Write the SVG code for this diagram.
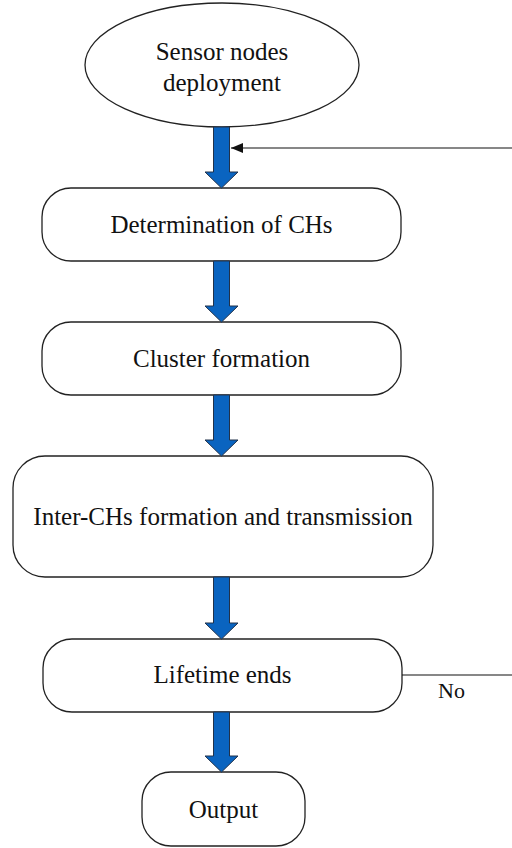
<svg xmlns="http://www.w3.org/2000/svg" width="512" height="848" viewBox="0 0 512 848">
<style>
.box{fill:#fff;stroke:#222;stroke-width:1.3}
.arr{fill:#0A64C0;stroke:#22324A;stroke-width:1}
.ln{stroke:#111;stroke-width:1.2;fill:none}
</style>
<defs>
<marker id="ah" markerWidth="12" markerHeight="10" refX="12" refY="5" orient="auto" markerUnits="userSpaceOnUse">
<path d="M0,0 L12,5 L0,10 z" fill="#111"/>
</marker>
</defs>
<g font-family="Liberation Serif, Times New Roman, serif" font-size="25" fill="#111" text-anchor="middle">
<g id="n1">
<ellipse class="box" cx="222" cy="65" rx="137" ry="62"/>
<text x="222" y="60">Sensor nodes</text>
<text x="222" y="91">deployment</text>
</g>
<g id="n2">
<rect class="box" x="42" y="188" width="359" height="73" rx="29"/>
<text x="221.5" y="233">Determination of CHs</text>
</g>
<g id="n3">
<rect class="box" x="42" y="322" width="359" height="73" rx="29"/>
<text x="221.5" y="367">Cluster formation</text>
</g>
<g id="n4">
<rect class="box" x="13" y="456" width="420" height="121" rx="32"/>
<text x="223" y="525">Inter-CHs formation and transmission</text>
</g>
<g id="n5">
<rect class="box" x="43" y="639" width="359" height="73" rx="29"/>
<text x="222.5" y="683">Lifetime ends</text>
</g>
<g id="n6">
<rect class="box" x="142" y="772" width="163" height="74" rx="29"/>
<text x="223.5" y="818">Output</text>
</g>
</g>
<g id="connectors">
<polygon class="arr" points="213.5,127 229.5,127 229.5,172 238,172 221.5,188 205,172 213.5,172"/>
<polygon class="arr" points="213.5,261 229.5,261 229.5,306 238,306 221.5,322 205,306 213.5,306"/>
<polygon class="arr" points="213.5,395 229.5,395 229.5,440 238,440 221.5,456 205,440 213.5,440"/>
<polygon class="arr" points="213.5,577 229.5,577 229.5,623 238,623 221.5,639 205,623 213.5,623"/>
<polygon class="arr" points="213.5,712 229.5,712 229.5,756 238,756 221.5,772 205,756 213.5,756"/>
<line class="ln" x1="512" y1="148" x2="231" y2="148" marker-end="url(#ah)"/>
<line class="ln" x1="402" y1="675" x2="512" y2="675"/>
<text x="438" y="698" font-family="Liberation Serif, Times New Roman, serif" font-size="22" fill="#111">No</text>
</g>
</svg>
